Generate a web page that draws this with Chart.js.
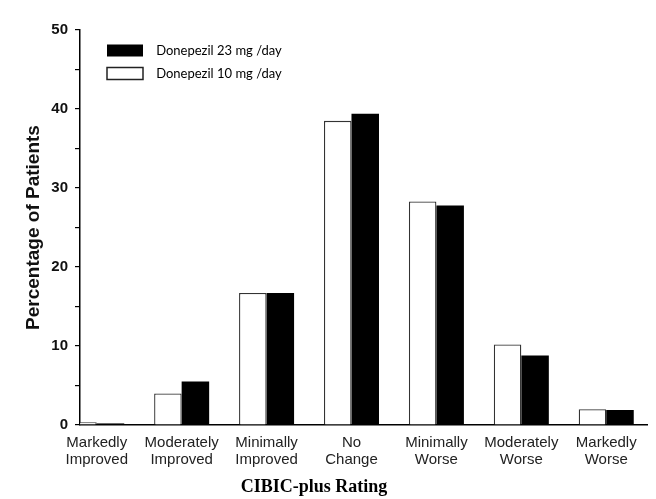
<!DOCTYPE html>
<html><head><meta charset="utf-8">
<script src="https://cdn.jsdelivr.net/npm/chart.js@4"></script>
<style>html,body{margin:0;padding:0;background:#fff}#wrap{width:656px;height:499px;position:relative}</style>
</head><body><div id="wrap"><canvas id="c"></canvas></div>
<script>
const categories = [['Markedly','Improved'],['Moderately','Improved'],['Minimally','Improved'],['No','Change'],['Minimally','Worse'],['Moderately','Worse'],['Markedly','Worse']];
const seriesNames = ['Donepezil 10 mg /day','Donepezil 23 mg /day'];
const values10 = [0.35, 4.0, 16.7, 38.5, 28.3, 10.2, 2.0];
const values23 = [0.2, 5.5, 16.7, 39.4, 27.8, 8.8, 1.9];
const yTickLabels = [0, 10, 20, 30, 40, 50];
const xTitle = 'CIBIC-plus Rating';
const yTitle = 'Percentage of Patients';

const SANS = '"Liberation Sans", Arial, sans-serif';

const legendPlace = {
  id: 'legendPlace',
  afterLayout(chart) {
    const l = chart.legend;
    if (!l) return;
    l.left = chart.chartArea.left + 17;
    l.top = chart.chartArea.top + 4;
    l.right = l.left + 300;
    l.bottom = l.top + 200;
  }
};
const xTitlePlugin = {
  id: 'xTitlePlugin',
  afterDraw(chart) {
    const ctx = chart.ctx;
    ctx.save();
    ctx.font = 'bold 18px "Liberation Serif", "Times New Roman", serif';
    ctx.fillStyle = '#000';
    ctx.textAlign = 'center';
    ctx.textBaseline = 'alphabetic';
    ctx.fillText(xTitle, 314, 492);
    ctx.restore();
  }
};

new Chart(document.getElementById('c'), {
  type: 'bar',
  data: {
    datasets: [
      { label: seriesNames[0], data: values10.map((v, i) => ({x: i, y: v})),
        backgroundColor: '#ffffff', borderColor: '#333333', borderWidth: 1.3 },
      { label: seriesNames[1], data: values23.map((v, i) => ({x: i, y: v})),
        backgroundColor: '#000000', borderColor: '#000000', borderWidth: 0 }
    ]
  },
  options: {
    responsive: true, maintainAspectRatio: false, animation: false,
    layout: { padding: { left: 0, top: 30, right: 9, bottom: 0 } },
    datasets: { bar: { barPercentage: 1, categoryPercentage: 0.648 } },
    plugins: {
      tooltip: { enabled: false },
      legend: {
        position: 'chartArea', align: 'start', reverse: true,
        labels: {
          boxWidth: 36, boxHeight: 12, padding: 10, color: '#000',
          font: { family: 'Lato, "Open Sans", sans-serif', size: 13 },
          generateLabels(chart) {
            const items = Chart.defaults.plugins.legend.labels.generateLabels(chart);
            items.forEach(it => { it.text = '  ' + it.text; if (it.datasetIndex === 0) { it.lineWidth = 1.5; it.strokeStyle = '#222'; } });
            return items;
          }
        }
      }
    },
    scales: {
      x: {
        type: 'linear', offset: false, min: -0.197, max: 6.48,
        grid: { display: false, drawTicks: false, offset: false },
        border: { color: '#000', width: 1.5 },
        afterBuildTicks(s) { s.ticks = categories.map((c, i) => ({ value: i })); },
        ticks: { autoSkip: false, maxRotation: 0, padding: 9, color: '#222',
          font: { family: SANS, size: 15, lineHeight: 1.15 },
          callback: (v, i) => categories[i] },
        afterFit(s) { s.height = 74; }
      },
      y: {
        min: 0, max: 50,
        ticks: { stepSize: 5, padding: 7, color: '#111',
          font: { family: SANS, size: 15, weight: 'bold' },
          callback: v => yTickLabels.includes(v) ? String(v) : '' },
        grid: { drawOnChartArea: false, tickLength: 5, color: '#000', lineWidth: 1.2 },
        border: { color: '#000', width: 1.5 },
        title: { display: true, text: yTitle, color: '#111',
          font: { family: SANS, size: 19, weight: 'bold' }, padding: { top: 22, bottom: 0 } },
        afterFit(s) { s.width = 80; }
      }
    }
  },
  plugins: [legendPlace, xTitlePlugin]
});
</script></body></html>
